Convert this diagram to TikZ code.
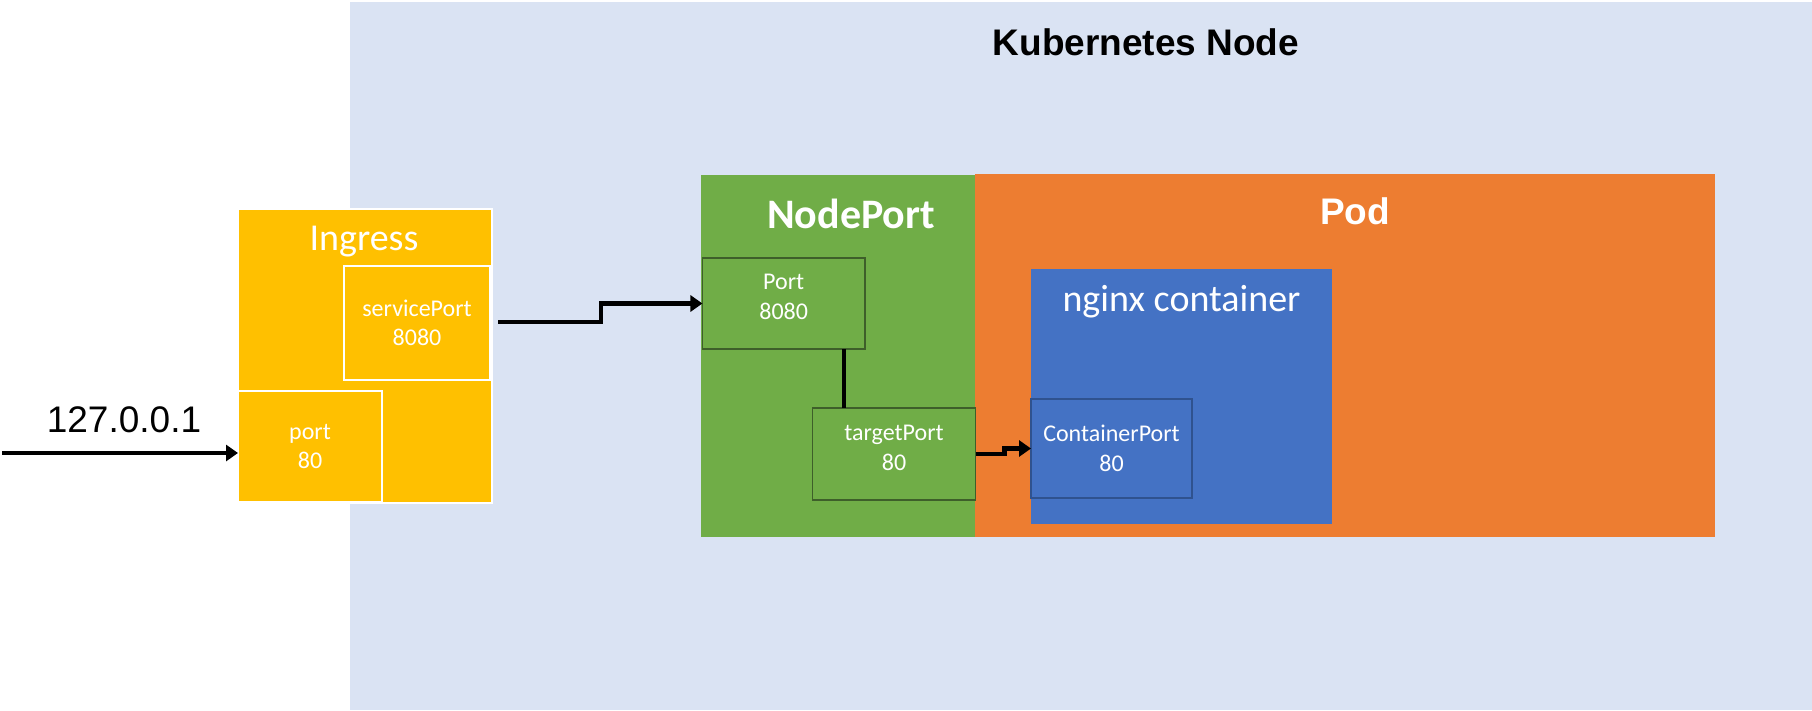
\documentclass[tikz,border=0pt]{standalone}
\usepackage{fontspec}
\setmainfont{Carlito}
\newfontfamily\arialf{Liberation Sans}
\usetikzlibrary{arrows.meta,calc}
\definecolor{kbg}{HTML}{DAE3F3}
\definecolor{kgreen}{HTML}{70AD47}
\definecolor{kgreenb}{HTML}{3E5F2A}
\definecolor{korange}{HTML}{ED7D31}
\definecolor{kblue}{HTML}{4472C4}
\definecolor{kblueb}{HTML}{2F528F}
\definecolor{kyellow}{HTML}{FFC000}
\tikzset{
  area/.style={inner sep=0pt, outer sep=0pt, anchor=center},
  smalltext/.style={text=white, align=center, font=\fontsize{24}{29.5}\selectfont},
  ybox/.style={area, fill=kyellow, draw=white, line width=2.5pt, smalltext},
  gbox/.style={area, fill=kgreen, draw=kgreenb, line width=1.6pt, smalltext},
  bbox/.style={area, fill=kblue, draw=kblueb, line width=1.6pt, smalltext},
  inlbl/.style={inner sep=0pt, smalltext},
  title/.style={inner sep=0pt, anchor=base, text=white},
  conn/.style={line width=4.8pt, black},
  arr/.style={conn, -{Triangle[length=12pt,width=16pt]}},
}
\begin{document}
\begin{tikzpicture}[x=1pt,y=-1pt]
\useasboundingbox (0,0) rectangle (1812,710);
\fill[white] (0,0) rectangle (1812,710);
\fill[kbg] (350,2) rectangle (1812,710);
\node[inner sep=0pt, anchor=base, font=\arialf\bfseries\fontsize{37}{44}\selectfont] (knode) at (1146,55) {Kubernetes Node};

% Ingress
\node[ybox, minimum width=254pt, minimum height=294pt] (ingress) at (365,356) {};
\node[title, font=\fontsize{38}{46}\selectfont] (ingresst) at (364,250) {Ingress};
\node[ybox, minimum width=146pt, minimum height=114pt] (svc) at (417,323) {servicePort\\8080};
\node[ybox, minimum width=144pt, minimum height=111pt] (portin) at (310,446.5) {port\\80};

% NodePort and Pod
\node[area, fill=kgreen, minimum width=274pt, minimum height=362pt] (nodeport) at (838,356) {};
\node[area, fill=korange, minimum width=740pt, minimum height=363pt] (pod) at (1345,355.5) {};
\node[title, font=\bfseries\fontsize{42}{50}\selectfont] (nodeportt) at (851,228) {NodePort};
\node[title, font=\arialf\bfseries\fontsize{37}{44}\selectfont] (podt) at (1355,224) {Pod};

\node[gbox, minimum width=162.5pt, minimum height=91pt] (port) at (783.7,303.5) {};
\node[inlbl] (portt) at (783.7,297) {Port\\8080};
\node[gbox, minimum width=163pt, minimum height=92pt] (target) at (894,454) {};
\node[inlbl] (targett) at (894,448) {targetPort\\80};

\node[area, fill=kblue, minimum width=301pt, minimum height=255pt] (nginx) at (1181.5,396.5) {};
\node[title, font=\fontsize{38}{46}\selectfont] (nginxt) at (1181.5,311) {nginx container};
\node[bbox, minimum width=161pt, minimum height=99pt] (cport) at (1111.5,448.5) {ContainerPort\\80};

% 127.0.0.1 input
\node[inner sep=0pt, anchor=base, font=\arialf\fontsize{37}{44}\selectfont] (ip) at (124,432) {127.0.0.1};
\coordinate (src) at (2,453);

% connectors
\draw[arr] (src) -- (src -| portin.west);
\draw[arr] ([xshift=8pt,yshift=1pt]svc.east) -- ++(103,0) |- (port.west);
\draw[conn] ([xshift=60.3pt]port.south) -- ([xshift=60.3pt]port.south |- target.north);
\draw[arr] (target.east) -- ++(29,0) |- (cport.west);
\end{tikzpicture}
\end{document}
